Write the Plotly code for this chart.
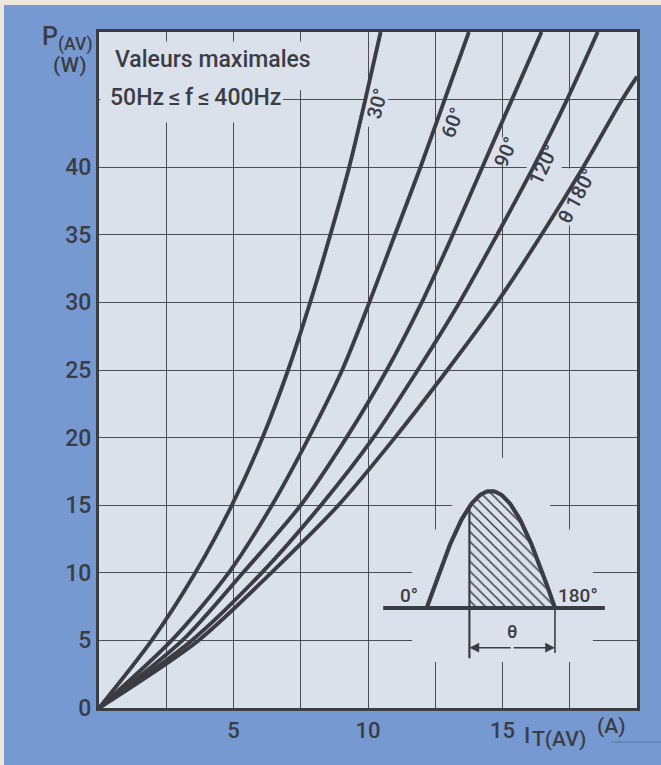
import numpy as np
import plotly.graph_objects as go

# Average power dissipation P(AV) reached at each current I_T(AV), per conduction angle
P_LEVELS = [0, 5, 10, 15, 20, 25, 30, 35, 40, 45, 50]
I_30 = [0, 1.96, 3.58, 4.94, 6.08, 7.03, 7.85, 8.6, 9.3, 9.9, 10.47]
I_60 = [0, 2.7, 4.82, 6.43, 7.8, 9.04, 10.05, 11.0, 11.95, 12.85, 13.75]
I_90 = [0, 3.1, 5.35, 7.5, 9.2, 10.7, 12.0, 13.15, 14.25, 15.35, 16.45]
I_120 = [0, 3.45, 6.05, 8.25, 10.2, 11.85, 13.4, 14.8, 16.15, 17.4, 18.54]
I_180 = [0, 3.7, 6.4, 8.9, 11.0, 12.95, 14.8, 16.45, 18.0, 19.45, 20.0]
P_180 = [0, 5, 10, 15, 20, 25, 30, 35, 40, 45, 46.7]

CURVES = [
    ("30°", I_30, P_LEVELS),
    ("60°", I_60, P_LEVELS),
    ("90°", I_90, P_LEVELS),
    ("120°", I_120, P_LEVELS),
    ("θ 180°", I_180, P_180),
]

X_TICKS = [0, 2.5, 5, 7.5, 10, 12.5, 15, 17.5, 20]
X_TICK_TEXT = ["", "", "5", "", "10", "", "15", "", ""]
Y_TICKS = [0, 5, 10, 15, 20, 25, 30, 35, 40, 45, 50]
Y_TICK_TEXT = ["0", "5", "10", "15", "20", "25", "30", "35", "40", "", ""]

# label text, position (I, P), rotation
CURVE_LABELS = [
    ("30°", 10.33, 44.7, -75),
    ("60°", 13.12, 43.3, -69),
    ("90°", 15.13, 41.1, -67),
    ("120°", 16.5, 40.2, -65),
    ("θ 180°", 17.75, 37.9, -62),
]

INK = "#3b3d45"
GRID = "#4a4d56"
PLOT_BG = "#dbe1eb"
PAPER_BG = "#7799d1"
FONT = "Roboto, 'DejaVu Sans', sans-serif"
WEIGHT = 500

W, H = 661, 765
L, R, T, B = 99, 24, 32, 57
PW, PH = W - L - R, H - T - B


def px_x(px):
    return (px - L) / PW


def px_y(py):
    return (H - B - py) / PH


def font(size):
    return dict(size=size, color=INK, family=FONT, weight=WEIGHT)


fig = go.Figure()

for name, xs, ys in CURVES:
    fig.add_trace(go.Scatter(
        x=xs, y=ys, mode="lines", name=name,
        line=dict(color=INK, width=3.9, shape="spline", smoothing=0.8),
        hoverinfo="skip", showlegend=False,
    ))

# --- conduction-angle sketch (half sine wave, shaded from the firing angle) ---
ORIGIN_I, SPAN_I = 12.18, 4.77      # 0° and width of 180° along the current axis
BASE_P, AMP_P = 7.4, 8.65           # baseline and crest height along the power axis
FIRE_DEG = 60


def sx(deg):
    return ORIGIN_I + np.asarray(deg, dtype=float) / 180.0 * SPAN_I


def sy(v):
    return BASE_P + np.asarray(v, dtype=float) * AMP_P


deg = np.linspace(0, 180, 91)
wave = np.sin(np.radians(deg))
shade_deg = np.linspace(FIRE_DEG, 180, 61)
shade_val = np.sin(np.radians(shade_deg))

fig.add_trace(go.Scatter(
    x=np.concatenate([[sx(FIRE_DEG)], sx(shade_deg), [sx(180)]]),
    y=np.concatenate([[sy(0)], sy(shade_val), [sy(0)]]),
    mode="lines", fill="toself", line=dict(width=0, color=INK),
    fillcolor="rgba(0,0,0,0)",
    fillpattern=dict(shape="\\", size=7, solidity=0.22, fgcolor=INK,
                     bgcolor=PLOT_BG, fgopacity=1),
    hoverinfo="skip", showlegend=False,
))
fig.add_trace(go.Scatter(
    x=sx(deg), y=sy(wave), mode="lines",
    line=dict(color=INK, width=4.2), hoverinfo="skip", showlegend=False,
))
fig.add_trace(go.Scatter(
    x=sx([-61, 250]), y=sy([0, 0]), mode="lines",
    line=dict(color=INK, width=4), hoverinfo="skip", showlegend=False,
))
fig.add_trace(go.Scatter(
    x=sx([FIRE_DEG, FIRE_DEG]), y=sy([np.sin(np.radians(FIRE_DEG)), -0.43]),
    mode="lines", line=dict(color=INK, width=2.2),
    hoverinfo="skip", showlegend=False,
))
fig.add_trace(go.Scatter(
    x=sx([180, 180]), y=sy([0, -0.385]), mode="lines",
    line=dict(color=INK, width=1.6), hoverinfo="skip", showlegend=False,
))

annotations = []
mid = (FIRE_DEG + 180) / 2
for end in (FIRE_DEG, 180):
    annotations.append(dict(
        x=float(sx(end)), y=float(sy(-0.34)), ax=float(sx(mid)), ay=float(sy(-0.34)),
        xref="x", yref="y", axref="x", ayref="y", text="", showarrow=True,
        arrowhead=2, arrowsize=1.3, arrowwidth=1.5, arrowcolor=INK, standoff=0,
    ))
annotations += [
    dict(x=float(sx(mid)), y=float(sy(-0.2)), text="θ", showarrow=False, font=font(18)),
    dict(x=float(sx(-25)), y=float(sy(0.11)), text="0°", showarrow=False, font=font(19)),
    dict(x=float(sx(213)), y=float(sy(0.11)), text="180°", showarrow=False, font=font(19)),
]

for text, xi, yp, ang in CURVE_LABELS:
    annotations.append(dict(x=xi, y=yp, text=text, textangle=ang, showarrow=False,
                            font=font(20)))


def note(px, py, text, size, xanchor="left"):
    return dict(x=px_x(px), y=px_y(py), xref="paper", yref="paper",
                xanchor=xanchor, yanchor="middle", text=text, showarrow=False,
                font=font(size))


THIN = "\u2009"

# titles and notes
annotations += [
    note(40, 38, "P<sub>(AV)</sub>", 25),
    note(70, 65, "(W)", 21, xanchor="center"),
    note(113, 60, "Valeurs maximales", 23),
    note(108, 97, f"50Hz{THIN}≤{THIN}f{THIN}≤{THIN}400Hz", 23),
    note(522, 735, "I", 22),
    note(530, 739, "T(AV)", 21),
    note(595, 726, "(A)", 21),
]

# gaps in the grid around lettering and the sketch
MASKS = [
    (0.05, 43.3, 6.84, 49.3),
    (7.3, 45.7, 7.7, 49.3),
    (9.85, 43.0, 10.75, 46.0),
    (14.8, 40.3, 15.6, 42.2),
    (15.9, 39.6, 17.2, 40.4),
    (17.35, 35.7, 17.65, 39.9),
    (11.64, 3.4, 18.36, 13.2),
    (13.12, 13.2, 16.77, 15.6),
    (14.85, 15.6, 15.15, 18.5),
]
shapes = [
    dict(type="rect", xref="x", yref="y", x0=a, y0=b, x1=c, y1=d, layer="between",
         fillcolor=PLOT_BG, line=dict(width=0))
    for a, b, c, d in MASKS
]
# cream page edge along the top and left
shapes += [
    dict(type="rect", xref="paper", yref="paper", x0=px_x(0), x1=px_x(W),
         y0=px_y(5), y1=px_y(0), fillcolor="#ebe7dc", line=dict(width=0), layer="below"),
    dict(type="rect", xref="paper", yref="paper", x0=px_x(0), x1=px_x(4),
         y0=px_y(H), y1=px_y(0), fillcolor="#ebe7dc", line=dict(width=0), layer="below"),
    dict(type="line", xref="paper", yref="paper", x0=px_x(611), x1=px_x(661),
         y0=px_y(742), y1=px_y(742), line=dict(color="#56749f", width=1)),
]

axis_common = dict(
    showgrid=True, gridcolor=GRID, gridwidth=1.4, zeroline=False,
    showline=True, linecolor=INK, linewidth=3, mirror=True, ticks="",
    fixedrange=True,
)

fig.update_layout(
    width=W, height=H,
    margin=dict(l=L, r=R, t=T, b=B, pad=0),
    paper_bgcolor=PAPER_BG, plot_bgcolor=PLOT_BG,
    xaxis=dict(range=[0, 20], tickmode="array", tickvals=X_TICKS, ticktext=X_TICK_TEXT,
               ticklabelstandoff=1, tickfont=font(22), **axis_common),
    yaxis=dict(range=[0, 50], tickmode="array", tickvals=Y_TICKS, ticktext=Y_TICK_TEXT,
               ticklabelstandoff=0, tickfont=font(23), **axis_common),
    annotations=annotations, shapes=shapes, showlegend=False,
)

fig.write_html("out.html")
